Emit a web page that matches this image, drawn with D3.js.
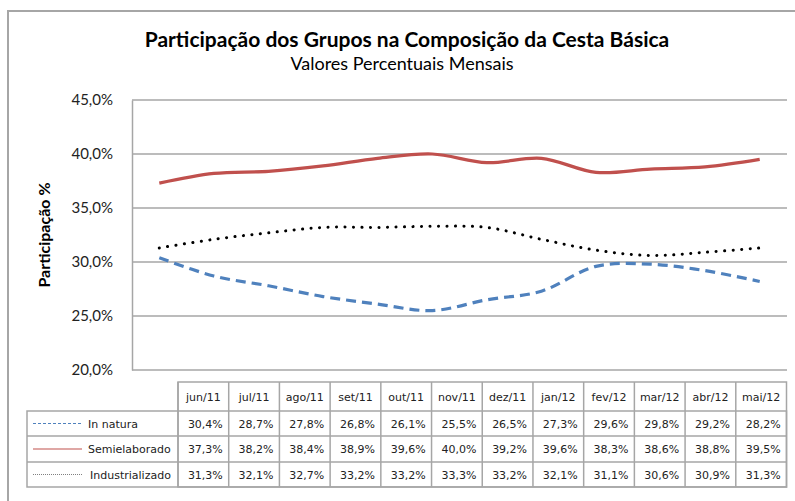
<!DOCTYPE html>
<html>
  <head>
    <meta charset="utf-8">
    <title>Cesta Básica</title>
    <script src="https://d3js.org/d3.v7.min.js"></script>
    <style>
      body{ margin: 0; background: #fff; }
      svg{ display: block; }
    </style>
  </head>
  <body>
    <div id="container"></div>
    <script>

      // DATA
      const months = ["jun/11","jul/11","ago/11","set/11","out/11","nov/11","dez/11","jan/12","fev/12","mar/12","abr/12","mai/12"];
      const inNatura = [30.4, 28.7, 27.8, 26.8, 26.1, 25.5, 26.5, 27.3, 29.6, 29.8, 29.2, 28.2];
      const semielaborado = [37.3, 38.2, 38.4, 38.9, 39.6, 40.0, 39.2, 39.6, 38.3, 38.6, 38.8, 39.5];
      const industrializado = [31.3, 32.1, 32.7, 33.2, 33.2, 33.3, 33.2, 32.1, 31.1, 30.6, 30.9, 31.3];
      const yTicks = [20, 25, 30, 35, 40, 45];

      const seriesNames = ["In natura", "Semielaborado", "Industrializado"];
      const seriesValues = [inNatura, semielaborado, industrializado];
      const lineStyles = [
        { color: "#4F81BD", width: 3.2, dash: "10,6", cap: "butt" },
        { color: "#C0504D", width: 3.2, dash: null, cap: "butt" },
        { color: "#000000", width: 3, dash: "0.1,8.4", cap: "round" }
      ];
      const keyStyles = [
        { color: "#4F81BD", width: 1, dash: "3,2" },
        { color: "#C0504D", width: 1.2, dash: null },
        { color: "#808080", width: 1, dash: "1,1" }
      ];

      const W = 795, H = 501;
      const plot = { left: 132, right: 787, top: 100, bottom: 370 };
      const table = { left: 178, right: 786.5, keyLeft: 27, rows: [382, 411, 436, 462, 487] };
      const grid = "#A6A6A6";

      const svg = d3.select("#container")
        .append("svg")
        .attr("width", W)
        .attr("height", H);

      // OUTER FRAME
      svg.append("rect")
        .attr("x", 8).attr("y", 11)
        .attr("width", 820).attr("height", 520)
        .attr("fill", "none")
        .attr("stroke", grid)
        .attr("stroke-width", 2);

      // TITLES
      svg.append("text")
        .attr("x", 407).attr("y", 47)
        .attr("text-anchor", "middle")
        .style("font-family", "Lato, sans-serif")
        .style("font-weight", "bold")
        .style("font-size", "21px")
        .attr("fill", "#000")
        .text("Participação dos Grupos na Composição da Cesta Básica");

      svg.append("text")
        .attr("x", 402).attr("y", 70)
        .attr("text-anchor", "middle")
        .style("font-family", "Lato, sans-serif")
        .style("font-size", "18px")
        .attr("fill", "#000")
        .text("Valores Percentuais Mensais");

      // SCALES
      const x = d3.scaleBand()
        .domain(months)
        .range([plot.left, plot.right]);
      const y = d3.scaleLinear()
        .domain([20, 45])
        .range([plot.bottom, plot.top]);
      const xt = d3.scaleBand()
        .domain(months)
        .range([table.left, table.right]);

      // GRIDLINES
      svg.append("g")
        .selectAll("line")
        .data(yTicks)
        .join("line")
        .attr("x1", plot.left).attr("x2", plot.right)
        .attr("y1", d => y(d)).attr("y2", d => y(d))
        .attr("stroke", grid)
        .attr("stroke-width", 1.5);

      // Y AXIS
      const yAxis = svg.append("g")
        .attr("transform", "translate(" + plot.left + ",0)")
        .call(d3.axisLeft(y)
          .tickValues(yTicks)
          .tickSize(0)
          .tickPadding(19)
          .tickFormat(d => d3.format(".1f")(d).replace(".", ",") + "%"));
      yAxis.select(".domain").attr("stroke", grid).attr("stroke-width", 1.5);
      yAxis.selectAll("text")
        .style("font-family", "Lato, sans-serif")
        .style("font-size", "15px")
        .attr("fill", "#222");

      svg.append("text")
        .attr("transform", "translate(50,235) rotate(-90)")
        .attr("text-anchor", "middle")
        .style("font-family", "Lato, sans-serif")
        .style("font-weight", "bold")
        .style("font-size", "16px")
        .attr("fill", "#000")
        .text("Participação %");

      // LINES
      const line = d3.line()
        .x((d, i) => x(months[i]) + x.bandwidth() / 2)
        .y(d => y(d))
        .curve(d3.curveCatmullRom.alpha(0.5));

      seriesValues.forEach((vals, k) => {
        const st = lineStyles[k];
        svg.append("path")
          .datum(vals)
          .attr("d", line)
          .attr("fill", "none")
          .attr("stroke", st.color)
          .attr("stroke-width", st.width)
          .attr("stroke-linecap", st.cap)
          .attr("stroke-dasharray", st.dash);
      });

      // DATA TABLE
      const tg = svg.append("g");
      const tFont = "'DejaVu Sans', Verdana, sans-serif";
      const r = table.rows;

      tg.append("rect")
        .attr("x", table.left).attr("y", r[0])
        .attr("width", table.right - table.left).attr("height", r[4] - r[0])
        .attr("fill", "none").attr("stroke", grid).attr("stroke-width", 1.5);
      tg.append("rect")
        .attr("x", table.keyLeft).attr("y", r[1])
        .attr("width", table.right - table.keyLeft).attr("height", r[4] - r[1])
        .attr("fill", "none").attr("stroke", grid).attr("stroke-width", 1.5);
      tg.selectAll(".hline")
        .data([r[2], r[3]])
        .join("line")
        .attr("x1", table.keyLeft).attr("x2", table.right)
        .attr("y1", d => d).attr("y2", d => d)
        .attr("stroke", grid).attr("stroke-width", 1.5);
      tg.selectAll(".vline")
        .data(months)
        .join("line")
        .attr("x1", d => xt(d)).attr("x2", d => xt(d))
        .attr("y1", r[0]).attr("y2", r[4])
        .attr("stroke", grid).attr("stroke-width", 1.5);

      // header labels
      tg.selectAll(".mlab")
        .data(months)
        .join("text")
        .attr("x", d => xt(d) + xt.bandwidth() / 2)
        .attr("y", (r[0] + r[1]) / 2 + 4)
        .attr("text-anchor", "middle")
        .style("font-family", tFont)
        .style("font-size", "11px")
        .attr("fill", "#222")
        .text(d => d);

      // rows
      seriesValues.forEach((vals, k) => {
        const cy = (r[k + 1] + r[k + 2]) / 2;
        tg.selectAll(".v" + k)
          .data(vals)
          .join("text")
          .attr("x", (d, i) => xt(months[i]) + xt.bandwidth() / 2 + 2)
          .attr("y", cy + 4)
          .attr("text-anchor", "middle")
          .style("font-family", tFont)
          .style("font-size", "11px")
          .attr("fill", "#222")
          .text(d => d3.format(".1f")(d).replace(".", ",") + "%");

        const ks = keyStyles[k];
        tg.append("line")
          .attr("x1", 33).attr("x2", 82)
          .attr("y1", cy).attr("y2", cy)
          .attr("stroke", ks.color)
          .attr("stroke-width", ks.width)
          .attr("stroke-dasharray", ks.dash);
        tg.append("text")
          .attr("x", k === 2 ? 90 : 88)
          .attr("y", cy + 4)
          .style("font-family", tFont)
          .style("font-size", "11px")
          .attr("fill", "#222")
          .text(seriesNames[k]);
      });

    </script>
  </body>
</html>
